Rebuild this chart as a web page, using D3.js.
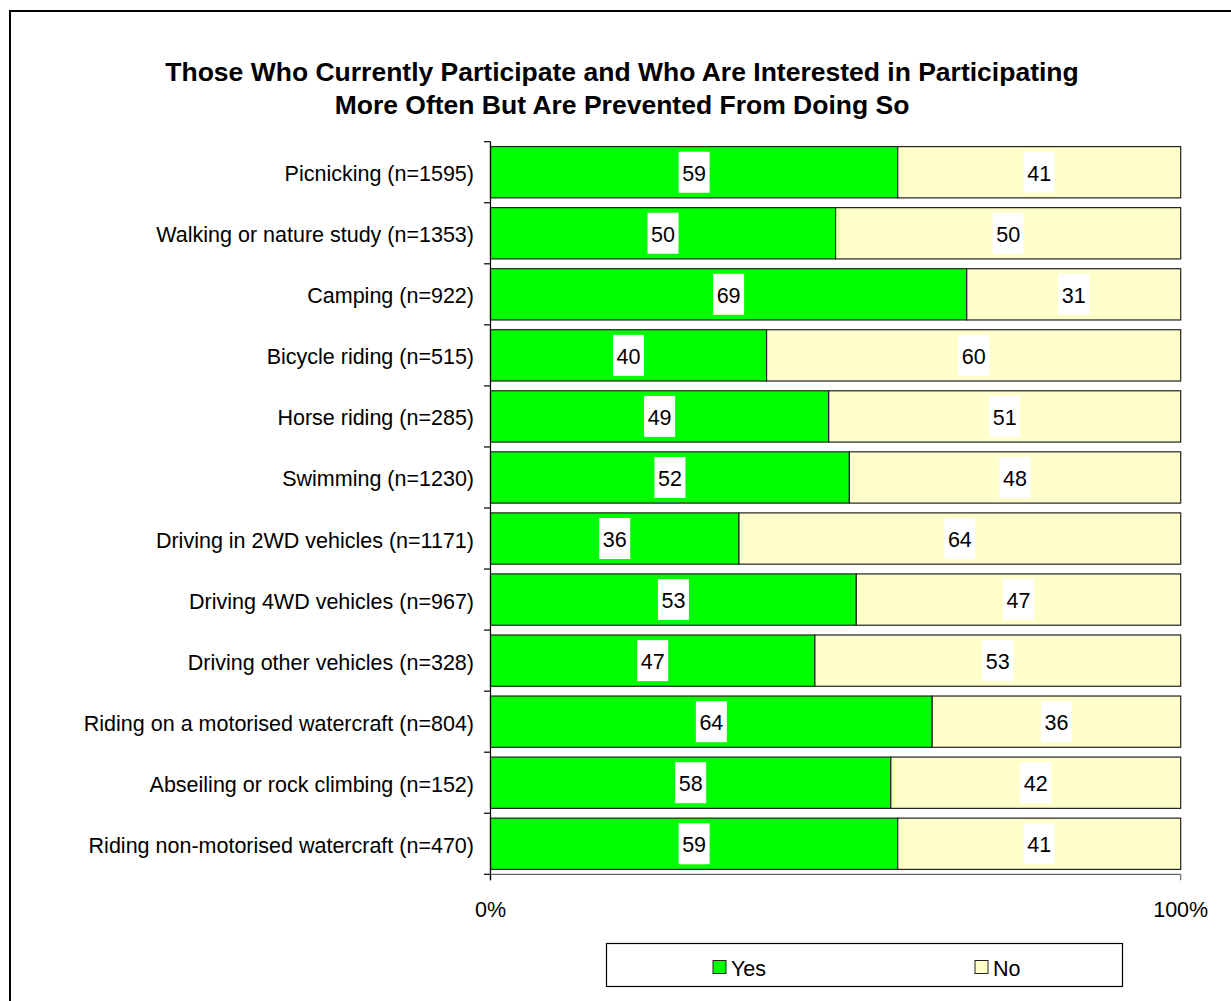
<!DOCTYPE html>
<html>
<head>
<meta charset="utf-8">
<script src="https://cdn.jsdelivr.net/npm/d3@7"></script>
<style>
  html, body { margin: 0; padding: 0; background: #fff; }
  svg { display: block; font-family: Arial, "Liberation Sans", sans-serif; }
</style>
</head>
<body>
<svg id="chart" width="1231" height="1001"></svg>
<script>
const titleLines = [
  "Those Who Currently Participate and Who Are Interested in Participating",
  "More Often But Are Prevented From Doing So"
];
const categories = [
  "Picnicking (n=1595)",
  "Walking or nature study (n=1353)",
  "Camping (n=922)",
  "Bicycle riding (n=515)",
  "Horse riding (n=285)",
  "Swimming (n=1230)",
  "Driving in 2WD vehicles (n=1171)",
  "Driving 4WD vehicles (n=967)",
  "Driving other vehicles  (n=328)",
  "Riding on a motorised watercraft (n=804)",
  "Abseiling or rock climbing (n=152)",
  "Riding non-motorised watercraft (n=470)"
];
const yesValues = [59, 50, 69, 40, 49, 52, 36, 53, 47, 64, 58, 59];
const noValues  = [41, 50, 31, 60, 51, 48, 64, 47, 53, 36, 42, 41];
const seriesNames = ["Yes", "No"];
const seriesColors = ["#00FF00", "#FFFFCC"];
const tickLabels = ["0%", "100%"];

const svg = d3.select("#chart");
const FONT = 21.5;

// outer frame
svg.append("rect")
  .attr("x", 10).attr("y", 11).attr("width", 1240).attr("height", 1010)
  .attr("fill", "none").attr("stroke", "#000").attr("stroke-width", 2);

// title
svg.append("g").selectAll("text").data(titleLines).join("text")
  .attr("x", 622).attr("y", (d, i) => 80.5 + i * 33)
  .attr("text-anchor", "middle")
  .attr("font-weight", "bold").attr("font-size", 26.5)
  .text(d => d);

const x = d3.scaleLinear().domain([0, 100]).range([490.5, 1180.7]);
const y = d3.scaleBand().domain(categories).range([141.7, 874.3])
  .paddingInner(0.16).paddingOuter(0.08);

const rows = categories.map((c, i) => ({
  cat: c,
  segs: [
    { key: 0, x0: 0, x1: yesValues[i], v: yesValues[i] },
    { key: 1, x0: yesValues[i], x1: yesValues[i] + noValues[i], v: noValues[i] }
  ]
}));

const rowG = svg.append("g").selectAll("g").data(rows).join("g");

rowG.selectAll("rect.seg").data(d => d.segs.map(s => ({ ...s, cat: d.cat }))).join("rect")
  .attr("class", "seg")
  .attr("x", d => x(d.x0))
  .attr("y", d => y(d.cat))
  .attr("width", d => x(d.x1) - x(d.x0))
  .attr("height", y.bandwidth())
  .attr("fill", d => seriesColors[d.key])
  .attr("stroke", "#222").attr("stroke-width", 1.2);

// value labels on white boxes
const lab = rowG.selectAll("g.lab").data(d => d.segs.map(s => ({ ...s, cat: d.cat }))).join("g")
  .attr("class", "lab")
  .attr("transform", d => `translate(${(x(d.x0) + x(d.x1)) / 2},${y(d.cat) + y.bandwidth() / 2})`);
lab.append("rect")
  .attr("x", -15.5).attr("y", -20.5).attr("width", 31).attr("height", 41)
  .attr("fill", "#fff");
lab.append("text")
  .attr("text-anchor", "middle").attr("y", 8.5)
  .attr("font-size", FONT).attr("fill", "#000")
  .text(d => d.v);

// category axis
const step = y.step();
const yTop = y.range()[0], yBottom = y.range()[1];
const axisG = svg.append("g");
axisG.append("line")
  .attr("x1", 490.5).attr("x2", 490.5).attr("y1", yTop).attr("y2", yBottom + 6)
  .attr("stroke", "#000").attr("stroke-width", 1.2);
axisG.selectAll("line.tk").data(d3.range(categories.length + 1)).join("line")
  .attr("class", "tk")
  .attr("x1", 484).attr("x2", 490.5)
  .attr("y1", i => yTop + i * step).attr("y2", i => yTop + i * step)
  .attr("stroke", "#000").attr("stroke-width", 1.2);
axisG.selectAll("text").data(categories).join("text")
  .attr("x", 474).attr("y", d => y(d) + y.bandwidth() / 2 + 9)
  .attr("text-anchor", "end").attr("font-size", FONT)
  .text(d => d);

// value axis
const xAxisG = svg.append("g");
xAxisG.append("line")
  .attr("x1", x(0)).attr("x2", x(100)).attr("y1", yBottom).attr("y2", yBottom)
  .attr("stroke", "#666").attr("stroke-width", 1.2);
xAxisG.selectAll("line.tk").data([0, 100]).join("line")
  .attr("class", "tk")
  .attr("x1", d => x(d)).attr("x2", d => x(d))
  .attr("y1", yBottom).attr("y2", yBottom + 6)
  .attr("stroke", d => d === 0 ? "#000" : "#666").attr("stroke-width", 1.2);
xAxisG.selectAll("text").data([0, 100]).join("text")
  .attr("x", d => x(d)).attr("y", 917)
  .attr("text-anchor", "middle").attr("font-size", FONT)
  .text((d, i) => tickLabels[i]);

// legend
const leg = svg.append("g");
leg.append("rect")
  .attr("x", 606.5).attr("y", 943.5).attr("width", 516).attr("height", 43)
  .attr("fill", "#fff").attr("stroke", "#000").attr("stroke-width", 1.2);
const legX = [713, 975];
const item = leg.selectAll("g.item").data(seriesNames).join("g")
  .attr("class", "item")
  .attr("transform", (d, i) => `translate(${legX[i]},0)`);
item.append("rect")
  .attr("x", 0).attr("y", 960.5).attr("width", 13).attr("height", 13)
  .attr("fill", (d, i) => seriesColors[i]).attr("stroke", "#222").attr("stroke-width", 1);
item.append("text")
  .attr("x", 18).attr("y", 976)
  .attr("font-size", FONT)
  .text(d => d);
</script>
</body>
</html>
